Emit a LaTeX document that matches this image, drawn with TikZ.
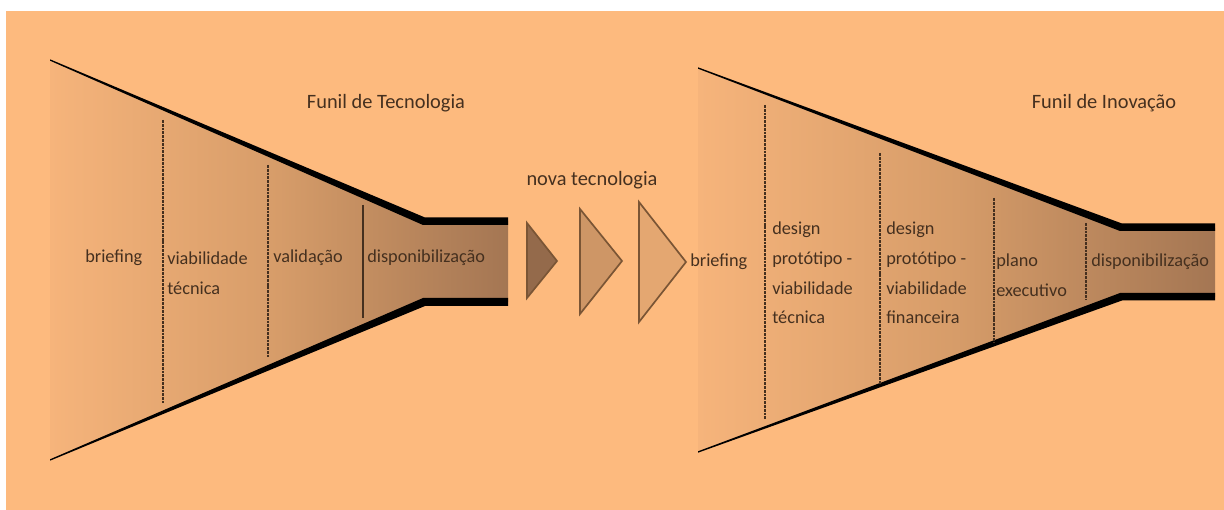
\documentclass[tikz,border=0pt]{standalone}
\usepackage{fontspec}
\setmainfont{Carlito}
\usetikzlibrary{positioning}
\definecolor{bgorange}{HTML}{FDBA7E}
\definecolor{funlight}{HTML}{F6B47B}
\definecolor{funmid}{HTML}{D69C69}
\definecolor{fundark}{HTML}{A47653}
\definecolor{txtbrown}{HTML}{45301F}
\definecolor{triline}{HTML}{7A5535}
\tikzstyle{lbl}=[inner sep=0pt,anchor=west,align=left,text=txtbrown,font=\fontsize{13}{21}\selectfont]
\tikzstyle{ttl}=[inner sep=0pt,text=txtbrown,font=\fontsize{14.5}{17}\selectfont]
\tikzstyle{divider}=[draw=txtbrown,line width=1.5pt,dash pattern=on 2pt off 0.7pt]
\tikzstyle{edge}=[fill=black]

\begin{document}
\begin{tikzpicture}[
        x=0.025cm,y=-0.025cm,
        tri/.style={draw=triline,line width=1.2pt,line join=miter}
        ]
        \useasboundingbox (0,0) rectangle (1224,510);
        \fill[white] (0,0) rectangle (1224,510);
        \fill[bgorange] (6,11) rectangle (1224,510);

        % funil de tecnologia
        \shade[left color=funlight,right color=fundark,middle color=funmid]
          (50,60) -- (425,221) -- (508,221) -- (508,302) -- (425,302) -- (50,460) -- cycle;
        \fill[edge] (50,59.3) -- (425,217.5) -- (508,217.5) -- (508,225) -- (423,225) -- (50,60.7) -- cycle;
        \fill[edge] (50,459.3) -- (423,298) -- (508,298) -- (508,306) -- (425,306) -- (50,460.7) -- cycle;
        \draw[divider,line width=1.1pt] (163,120) -- (163,403);
        \draw[divider,line width=1.1pt] (268,165) -- (268,357);
        \draw[draw=txtbrown,line width=0.9pt] (363,205) -- (363,318);
        \node[ttl] (t1) at (386,103) {Funil de Tecnologia};
        \node[lbl] (a1) at (85,258) {briefing};
        \node[lbl] (a2) at (167,273) {viabilidade\\técnica};
        \node[lbl] (a3) at (273,258) {validação};
        \node[lbl] (a4) at (367,258) {disponibilização};

        % nova tecnologia
        \node[ttl] (nt) at (592,180) {nova tecnologia};
        \filldraw[tri,fill=fundark!90!black] (527,223) -- (557,261) -- (527,298) -- cycle;
        \filldraw[tri,fill=funmid!85!fundark] (580,209) -- (622,261) -- (580,314) -- cycle;
        \filldraw[tri,fill=funmid!55!funlight] (639,202) -- (686,262) -- (639,322) -- cycle;

        % funil de inovacao
        \shade[left color=funlight,right color=fundark,middle color=funmid]
          (698,68) -- (1122,228) -- (1215,228) -- (1215,297) -- (1122,297) -- (698,452) -- cycle;
        \fill[edge] (698,67.3) -- (1122,223.5) -- (1215,223.5) -- (1215,231) -- (1120,231) -- (698,68.7) -- cycle;
        \fill[edge] (698,451.3) -- (1120,293) -- (1215,293) -- (1215,300.5) -- (1122,300.5) -- (698,452.7) -- cycle;
        \draw[divider] (765,105) -- (765,420);
        \draw[divider] (880,153) -- (880,384);
        \draw[divider] (994,198) -- (994,343);
        \draw[divider] (1086,223) -- (1086,300);
        \node[ttl] (t2) at (1104,103) {Funil de Inovação};
        \node[lbl] (b1) at (690,262) {briefing};
        \node[lbl] (b2) at (772,273) {design\\protótipo -\\viabilidade\\técnica};
        \node[lbl] (b3) at (886,273) {design\\protótipo -\\viabilidade\\financeira};
        \node[lbl] (b4) at (996,275) {plano\\executivo};
        \node[lbl] (b5) at (1091,262) {disponibilização};
\end{tikzpicture}
\end{document}
